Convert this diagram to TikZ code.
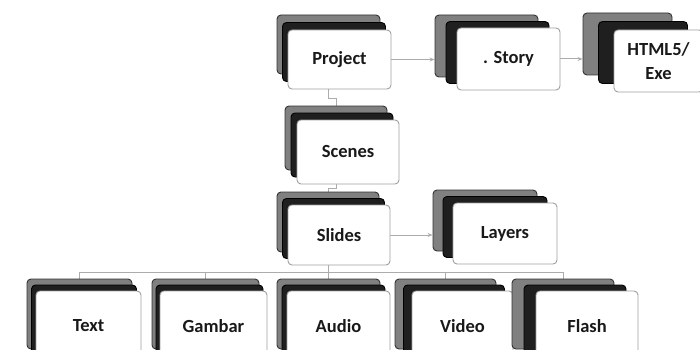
\documentclass[tikz,border=0pt]{standalone}
\usepackage{fontspec}
\setmainfont{Carlito}
\usetikzlibrary{arrows.meta,calc}
\pgfdeclarelayer{bg}
\pgfsetlayers{bg,main}
\tikzset{
  card/.style={rectangle, rounded corners=4pt, inner sep=0pt, line width=0.9pt},
  backcard/.style={card, fill=black!50, draw=black!80},
  midcard/.style={card, fill=black!88, draw=black},
  frontcard/.style={card, fill=white, draw=gray!75,
    font=\bfseries\fontsize{18.5}{24}\selectfont, text=black!90, align=center},
  link/.style={draw=gray!65, line width=1pt},
  arrowlink/.style={link, -{Stealth[length=5pt,width=4pt]}},
}
% a stack of three cards: name, centre x, centre y, width, height, back offset x, back offset y, label
\newcommand\cardstack[8]{%
  \node[backcard, minimum width=#4pt, minimum height=#5pt] (#1b) at ({#2-#6},{#3-#7}) {};
  \node[midcard, minimum width=#4pt, minimum height=#5pt] (#1m) at ({#2-#6/2},{#3-#7/2}) {};
  \node[frontcard, minimum width=#4pt, minimum height=#5pt] (#1) at (#2,#3) {#8};
}
\begin{document}
\begin{tikzpicture}[x=1pt,y=-1pt]
  \useasboundingbox (0,0) rectangle (700,350);

  % top row
  \cardstack{project}{339.5}{59.5}{103}{59}{11}{15}{Project}
  \cardstack{story}{508.5}{59}{103}{62}{22}{13}{. Story}
  \cardstack{html}{658.5}{61}{89}{62}{31}{17}{HTML5/\\Exe}

  % middle rows
  \cardstack{scenes}{348}{152}{102}{64}{12}{14}{Scenes}
  \cardstack{slides}{339}{235}{102}{60}{11}{13}{Slides}
  \cardstack{layers}{505}{233.5}{104}{61}{20}{13}{Layers}

  % bottom row
  \cardstack{text}{88.5}{326}{105}{70}{9}{12}{Text}
  \cardstack{gambar}{213.5}{326}{107}{70}{8}{12}{Gambar}
  \cardstack{audio}{338.5}{326}{103}{70}{10}{12}{Audio}
  \cardstack{video}{462.5}{326}{101}{70}{17}{12}{Video}
  \cardstack{flash}{587}{326}{102}{70}{24}{12}{Flash}

  \begin{pgfonlayer}{bg}
    \fill[white] (0,0) rectangle (700,350);
    \draw[arrowlink] (project.east) -- (project.east -| storyb.west);
    \draw[arrowlink] (story.east) -- (story.east -| htmlb.west);
    \draw[arrowlink] (slides.east) -- (slides.east -| layersb.west);
    \draw[link] (projectb.south) -- ++(0,24) -| (scenesb.north);
    \draw[link] (scenesb.south) -- ++(0,18) -| (slidesb.north);
    \foreach \c in {textb,gambarb,audiob,videob,flashb}
      \draw[link] (slidesb.south) -- ++(0,20) -| (\c.north);
  \end{pgfonlayer}
\end{tikzpicture}
\end{document}
